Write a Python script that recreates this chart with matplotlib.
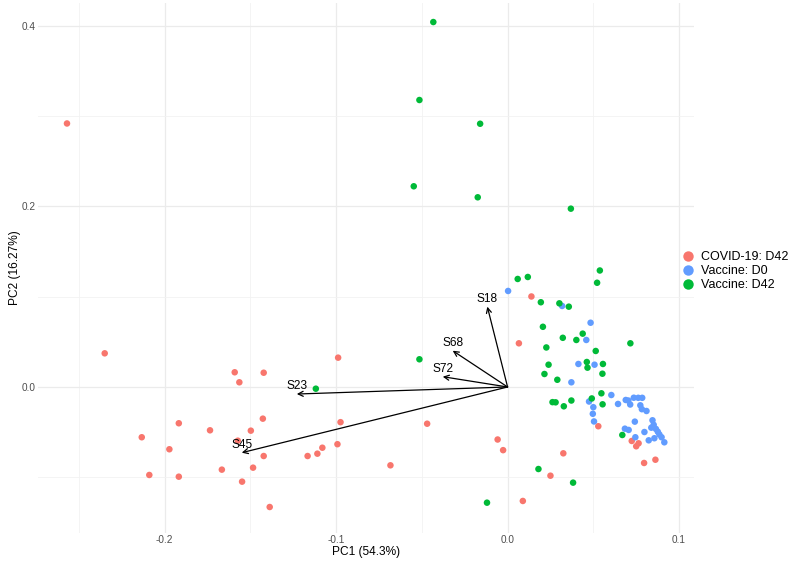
import matplotlib
matplotlib.use("Agg")
import matplotlib.pyplot as plt
from matplotlib.lines import Line2D

plt.rcParams['font.family'] = ['Liberation Sans', 'DejaVu Sans']

groups = ["COVID-19: D42", "Vaccine: D0", "Vaccine: D42"]
colors = ["#F8766D", "#619CFF", "#00BA38"]

covid_pc1 = [-0.2569, -0.2349, -0.1591, -0.1422, -0.1564, -0.0988, -0.1427, -0.1917, -0.1735, -0.1497,
             -0.2133, -0.1573, -0.1972, -0.1422, -0.1484, -0.1666, -0.2089, -0.1917, -0.1548, -0.1387,
             -0.1166, -0.1109, -0.1080, -0.0992, -0.0974, -0.0469, -0.0683, -0.0058, -0.0026, 0.0325,
             0.0250, 0.0089, 0.0529, 0.0724, 0.0764, 0.0750, 0.0796, 0.0862, 0.0139, 0.0066]
covid_pc2 = [0.2920, 0.0373, 0.0163, 0.0158, 0.0052, 0.0325, -0.0351, -0.0402, -0.0480, -0.0484,
             -0.0557, -0.0595, -0.0690, -0.0765, -0.0894, -0.0916, -0.0975, -0.0994, -0.1049, -0.1330,
             -0.0765, -0.0739, -0.0673, -0.0634, -0.0390, -0.0407, -0.0868, -0.0582, -0.0700, -0.0735,
             -0.0983, -0.1263, -0.0435, -0.0598, -0.0624, -0.0657, -0.0842, -0.0806, 0.1003, 0.0484]

d0_pc1 = [0.0003, 0.0318, 0.0484, 0.0459, 0.0413, 0.0507, 0.0372, 0.0605, 0.0475, 0.0500,
          0.0497, 0.0504, 0.0644, 0.0689, 0.0704, 0.0715, 0.0736, 0.0762, 0.0785, 0.0774,
          0.0783, 0.0810, 0.0742, 0.0845, 0.0852, 0.0838, 0.0865, 0.0876, 0.0885, 0.0898,
          0.0914, 0.0684, 0.0706, 0.0798, 0.0745, 0.0823, 0.0856]
d0_pc2 = [0.1064, 0.0898, 0.0712, 0.0521, 0.0255, 0.0247, 0.0052, -0.0089, -0.0161, -0.0224,
          -0.0297, -0.0382, -0.0188, -0.0144, -0.0150, -0.0194, -0.0119, -0.0120, -0.0120, -0.0203,
          -0.0246, -0.0266, -0.0384, -0.0369, -0.0419, -0.0451, -0.0465, -0.0496, -0.0526, -0.0557,
          -0.0613, -0.0462, -0.0476, -0.0499, -0.0557, -0.0591, -0.0568]

d42_pc1 = [-0.0433, -0.0514, -0.0160, -0.0547, -0.0174, 0.0369, -0.1118, -0.0514, -0.0120, 0.0180,
           0.0382, 0.0669, 0.0059, 0.0118, 0.0538, 0.0522, 0.0194, 0.0302, 0.0357, 0.0206,
           0.0322, 0.0401, 0.0438, 0.0716, 0.0226, 0.0514, 0.0462, 0.0466, 0.0556, 0.0239,
           0.0215, 0.0290, 0.0553, 0.0547, 0.0491, 0.0554, 0.0372, 0.0262, 0.0280, 0.0328]
d42_pc2 = [0.4044, 0.3180, 0.2917, 0.2224, 0.2102, 0.1976, -0.0019, 0.0307, -0.1282, -0.0909,
           -0.1060, -0.0532, 0.1197, 0.1219, 0.1291, 0.1155, 0.0939, 0.0927, 0.0890, 0.0667,
           0.0545, 0.0521, 0.0591, 0.0484, 0.0438, 0.0399, 0.0277, 0.0214, 0.0255, 0.0247,
           0.0144, 0.0080, 0.0147, -0.0070, -0.0127, -0.0192, -0.0150, -0.0168, -0.0170, -0.0214]

var_names = ["S18", "S68", "S72", "S23", "S45"]
var_pc1 = [-0.0118, -0.0320, -0.0378, -0.1229, -0.1550]
var_pc2 = [0.0890, 0.0402, 0.0114, -0.0078, -0.0728]

xticks = [-0.2, -0.1, 0.0, 0.1]
xminor = [-0.25, -0.15, -0.05, 0.05]
yticks = [0.0, 0.2, 0.4]
yminor = [-0.1, 0.1, 0.3]

fig = plt.figure(figsize=(7.94, 5.66), dpi=100)
ax = fig.add_axes([38/794, 33/566, 656/794, 530/566])
ax.set_xlim(-0.2738, 0.1087)
ax.set_ylim(-0.1618, 0.4255)

for v in xticks:
    ax.axvline(v, color="#EBEBEB", lw=0.9, zorder=0)
for v in xminor:
    ax.axvline(v, color="#F2F2F2", lw=0.6, zorder=0)
for v in yticks:
    ax.axhline(v, color="#EBEBEB", lw=0.9, zorder=0)
for v in yminor:
    ax.axhline(v, color="#F2F2F2", lw=0.6, zorder=0)

data = [(covid_pc1, covid_pc2), (d0_pc1, d0_pc2), (d42_pc1, d42_pc2)]
for (xs, ys), c in zip(data, colors):
    ax.scatter(xs, ys, s=22, color=c, edgecolors='none', zorder=2)

for name, vx, vy in zip(var_names, var_pc1, var_pc2):
    ax.annotate('', xy=(vx, vy), xytext=(0, 0),
                arrowprops=dict(arrowstyle='->', color='black', lw=0.9,
                                shrinkA=0, shrinkB=0, mutation_scale=9), zorder=3)
    ax.annotate(name, xy=(vx, vy), xytext=(0, 3.3), textcoords='offset points',
                ha='center', va='baseline', fontsize=8.6, color='black', zorder=4)

for s in ax.spines.values():
    s.set_visible(False)
ax.set_xticks(xticks)
ax.set_xticklabels(["-0.2", "-0.1", "0.0", "0.1"])
ax.set_yticks(yticks)
ax.set_yticklabels(["0.0", "0.2", "0.4"])
ax.tick_params(length=0, labelsize=7.2, labelcolor="#4D4D4D", pad=1.5)
ax.set_xlabel("PC1 (54.3%)", fontsize=8.6, labelpad=1)
ax.set_ylabel("PC2 (16.27%)", fontsize=8.6, labelpad=1)

handles = [Line2D([0], [0], marker='o', linestyle='none', markersize=7.5,
                  markerfacecolor=c, markeredgecolor='none') for c in colors]
fig.legend(handles, groups, loc='center left', bbox_to_anchor=(682/794, (566 - 271)/566),
           frameon=False, fontsize=9, handlelength=1.0, handletextpad=0.5,
           borderpad=0, borderaxespad=0, labelspacing=0.15)

fig.savefig("out.png", dpi=100)
